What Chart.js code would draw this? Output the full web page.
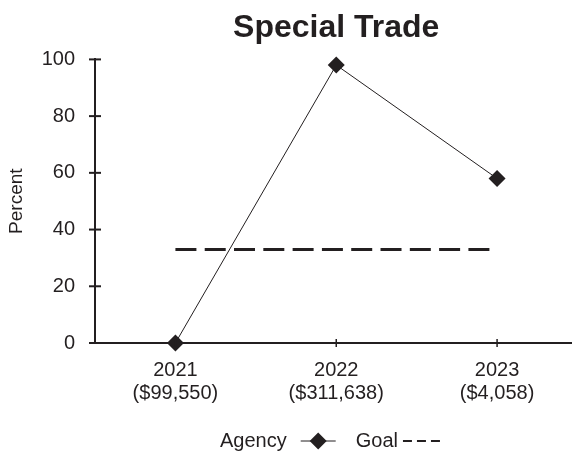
<!DOCTYPE html>
<html>
<head>
<meta charset="utf-8">
<script src="https://cdn.jsdelivr.net/npm/chart.js@4/dist/chart.umd.min.js"></script>
<style>
html,body{margin:0;padding:0;background:#fff;overflow:hidden;width:572px;height:455px;}
#wrap{position:relative;width:586px;height:455px;}
</style>
</head>
<body>
<div id="wrap"><canvas id="c" width="586" height="455" style="width:586px;height:455px"></canvas></div>
<script>
const years = ["2021", "2022", "2023"];
const amounts = ["($99,550)", "($311,638)", "($4,058)"];
const agencyValues = [0, 98, 58];
const goalValues = [33, 33, 33];
const yTicks = [0, 20, 40, 60, 80, 100];

const INK = '#231f20';
const FONT = "'Liberation Sans', Arial, sans-serif";
const categories = years.map((y, i) => [y, amounts[i]]);

const tickMarks = {
  id: 'tickMarks',
  afterDraw(chart) {
    const ctx = chart.ctx;
    const xs = chart.scales.x, ys = chart.scales.y;
    const ax = chart.chartArea.left, ay = chart.chartArea.bottom;
    ctx.save();
    ctx.strokeStyle = INK;
    ctx.lineWidth = 2;
    ys.ticks.forEach((t, i) => {
      const y = ys.getPixelForTick(i);
      ctx.beginPath(); ctx.moveTo(ax - 6, y); ctx.lineTo(ax + 6, y); ctx.stroke();
    });
    ctx.lineWidth = 1.5;
    xs.ticks.forEach((t, i) => {
      const x = xs.getPixelForTick(i);
      ctx.beginPath(); ctx.moveTo(x, ay - 4); ctx.lineTo(x, ay + 4); ctx.stroke();
    });
    ctx.restore();
  }
};

const legendPlugin = {
  id: 'customLegend',
  afterDraw(chart) {
    const ctx = chart.ctx;
    const ds = chart.data.datasets;
    ctx.save();
    ctx.font = "20px " + FONT;
    ctx.fillStyle = INK;
    ctx.strokeStyle = INK;
    ctx.textBaseline = 'middle';
    const y = 441;
    let x = 220;
    ctx.fillText(ds[0].label, x, y);
    x += ctx.measureText(ds[0].label).width + 14;
    ctx.lineWidth = 1;
    ctx.beginPath(); ctx.moveTo(x, y); ctx.lineTo(x + 35, y); ctx.stroke();
    const cx = x + 17.5;
    ctx.beginPath();
    ctx.moveTo(cx - 8.5, y); ctx.lineTo(cx, y - 8.5); ctx.lineTo(cx + 8.5, y); ctx.lineTo(cx, y + 8.5);
    ctx.closePath(); ctx.fill();
    x += 35 + 20;
    ctx.fillText(ds[1].label, x, y);
    x += ctx.measureText(ds[1].label).width + 5;
    ctx.lineWidth = 2;
    for (let k = 0; k < 3; k++) {
      ctx.beginPath(); ctx.moveTo(x + k * 14, y); ctx.lineTo(x + k * 14 + 9, y); ctx.stroke();
    }
    ctx.restore();
  }
};

new Chart(document.getElementById('c'), {
  type: 'line',
  data: {
    labels: categories,
    datasets: [
      {
        label: 'Agency',
        data: agencyValues,
        borderColor: INK,
        backgroundColor: INK,
        borderWidth: 1,
        pointStyle: 'rectRot',
        pointRadius: 8.5,
        pointBorderWidth: 0,
        pointBackgroundColor: INK,
        clip: false,
        order: 0
      },
      {
        label: 'Goal',
        data: goalValues,
        borderColor: INK,
        borderWidth: 3,
        borderDash: [21, 8.3],
        pointRadius: 0,
        fill: false,
        order: 1
      }
    ]
  },
  options: {
    responsive: false,
    animation: false,
    devicePixelRatio: 1,
    layout: { padding: { left: 0, right: 0, top: 0, bottom: 42 } },
    plugins: {
      legend: { display: false },
      tooltip: { enabled: false },
      title: {
        display: true,
        text: 'Special Trade',
        fullSize: false,
        color: INK,
        font: { family: FONT, size: 32, weight: 'bold' },
        padding: { top: 9, bottom: 12 }
      }
    },
    scales: {
      x: {
        type: 'category',
        offset: true,
        grid: { display: false },
        border: { display: true, color: INK, width: 2 },
        ticks: {
          color: INK,
          font: { family: FONT, size: 20, lineHeight: 1.15 },
          padding: 8,
          maxRotation: 0,
          autoSkip: false
        }
      },
      y: {
        min: 0,
        max: 100,
        afterBuildTicks(axis) { axis.ticks = yTicks.map(v => ({ value: v })); },
        afterFit(axis) { axis.width = 95; },
        grid: { display: false },
        border: { display: true, color: INK, width: 2 },
        ticks: {
          color: INK,
          font: { family: FONT, size: 20 },
          padding: 12
        },
        title: {
          display: true,
          text: 'Percent',
          color: INK,
          font: { family: FONT, size: 19 },
          padding: { top: 5, bottom: 15 }
        }
      }
    }
  },
  plugins: [tickMarks, legendPlugin]
});
</script>
</body>
</html>
